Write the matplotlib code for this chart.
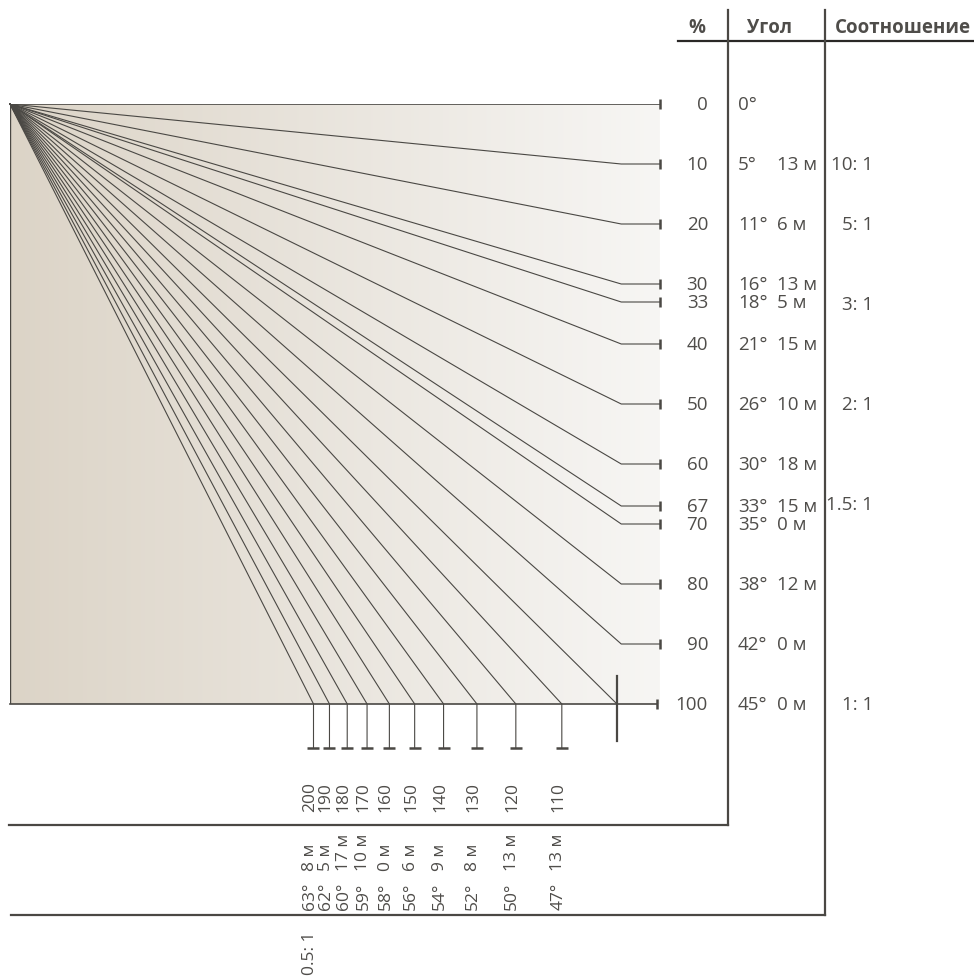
import numpy as np
import matplotlib
matplotlib.use("Agg")
import matplotlib.pyplot as plt
from matplotlib import transforms

plt.rcParams['font.family'] = ['Open Sans', 'DejaVu Sans']

# slopes up to 100% (rows on the right side)
pct_up = [0, 10, 20, 30, 33, 40, 50, 60, 67, 70, 80, 90, 100]
deg_up = [0, 5, 11, 16, 18, 21, 26, 30, 33, 35, 38, 42, 45]
min_up = [None, 13, 6, 13, 5, 15, 10, 18, 15, 0, 12, 0, 0]

# slopes above 100% (columns at the bottom)
pct_down = [110, 120, 130, 140, 150, 160, 170, 180, 190, 200]
deg_down = [47, 50, 52, 54, 56, 58, 59, 60, 62, 63]
min_down = [13, 13, 8, 9, 6, 0, 10, 17, 5, 8]

# ratios (run : rise)
ratios = [10, 5, 3, 2, 1.5, 1, 0.5]
ratio_labels = ['10: 1', '5: 1', '3: 1', '2: 1', '1.5: 1', '1: 1', '0.5: 1']

headers = ['%', 'Угол', 'Соотношение']

W, H = 974, 978
LINE = '#4a4844'
TEXT = '#4f4d4a'
FS = 13.5
FS_ROT = 12.5

fig = plt.figure(figsize=(W / 100, H / 100), dpi=100)

# overlay axes in pixel units for the table frame
ov = fig.add_axes([0, 0, 1, 1])
ov.set_xlim(0, W)
ov.set_ylim(H, 0)
ov.axis('off')

# main diagram axes: box from x=10..660 px, y=105..705 px
x0, x1, y0, y1 = 10, 660, 105, 705
ax = fig.add_axes([x0 / W, (H - y1) / H, (x1 - x0) / W, (y1 - y0) / H])
px_per_unit = 6.07
xmax = (x1 - x0) / px_per_unit
ax.set_xlim(0, xmax)
ax.set_ylim(100, 0)
ax.axis('off')


def ypx(py):
    # pixel row -> data drop
    return (py - y0) / 6.0


# background gradient
grad = np.linspace(0, 1, 256)[None, :]
c_left = np.array([220, 212, 199]) / 255
c_right = np.array([247, 246, 244]) / 255
img = c_left[None, None, :] * (1 - grad[..., None]) + c_right[None, None, :] * grad[..., None]
ax.imshow(img, extent=(0, xmax - 0.1, 100, 0), aspect='auto', zorder=0)

# left border
ax.plot([0, 0], [0, 100], color=LINE, lw=1.0, zorder=2)

bend_x = 100.7
cap_x = xmax
for p in pct_up:
    if p == 0:
        ax.plot([0, cap_x], [0, 0], color=LINE, lw=1.2, zorder=2)
    elif p < 100:
        ax.plot([0, bend_x, cap_x], [0, p, p], color=LINE, lw=0.8, zorder=2)
    else:
        ax.plot([0, 100], [0, 100], color=LINE, lw=0.8, zorder=2)
        ax.plot([0, cap_x - 0.5], [100, 100], color=LINE, lw=1.2, zorder=2, clip_on=False)
        ax.plot([100, 100], [ypx(677), ypx(742)], color=LINE, lw=1.6, zorder=3, clip_on=False)
    cx = cap_x - 0.5 if p == 100 else cap_x
    ax.plot([cx], [p], marker='|', ms=7.5, mew=1.8, color=LINE, zorder=3, clip_on=False)

drop_end = ypx(749)
for p in pct_down:
    xb = 100 * 100 / p
    ax.plot([0, xb, xb], [0, 100, drop_end], color=LINE, lw=0.8, zorder=2, clip_on=False)
    ax.plot([xb], [drop_end], marker='_', ms=9, mew=1.8, color=LINE, zorder=3, clip_on=False)

# table frame
ov.plot([678, W], [42, 42], color='#2a2826', lw=1.6)
ov.plot([728, 728], [11, 826], color=LINE, lw=1.6)
ov.plot([825, 825], [11, 916], color=LINE, lw=1.6)
ov.plot([9, 728], [826, 826], color=LINE, lw=1.6)
ov.plot([11, 825], [916, 916], color=LINE, lw=1.6)

for hx, label in zip([697, 770, 903], headers):
    ov.text(hx, 28, label, ha='center', va='center', fontsize=FS, fontweight='bold', color=TEXT)

# right-side rows: x in pixels, y in diagram units
row_tf = transforms.blended_transform_factory(ov.transData, ax.transData)
for p, d, m in zip(pct_up, deg_up, min_up):
    ax.text(708, p, str(p), transform=row_tf, ha='right', va='center', fontsize=FS,
            color=TEXT)
    ax.text(738, p, f'{d}°', transform=row_tf, ha='left', va='center', fontsize=FS,
            color=TEXT)
    if m is not None:
        ax.text(777, p, f'{m} м', transform=row_tf, ha='left', va='center', fontsize=FS,
                color=TEXT)

for r, lab in zip(ratios, ratio_labels):
    if r >= 1:
        ax.text(873, 100 / r, lab, transform=row_tf, ha='right', va='center', fontsize=FS,
                color=TEXT)

# bottom columns: x in diagram units, y in pixels
col_tf = transforms.blended_transform_factory(ax.transData, ov.transData)
kw = dict(transform=col_tf, rotation=90, rotation_mode='anchor', ha='left', va='center',
          fontsize=FS_ROT, color=TEXT)
for p, d, m in zip(pct_down, deg_down, min_down):
    xb = 100 * 100 / p - 0.6
    ax.text(xb, 812, str(p), **kw)
    ax.text(xb, 910, f'{d}°', **kw)
    ax.text(xb, 871, f'{m} м', **kw)

for r, lab in zip(ratios, ratio_labels):
    if r < 1:
        ax.text(100 * r - 0.6, 975, lab, **kw)

fig.savefig('out.png', dpi=100)
